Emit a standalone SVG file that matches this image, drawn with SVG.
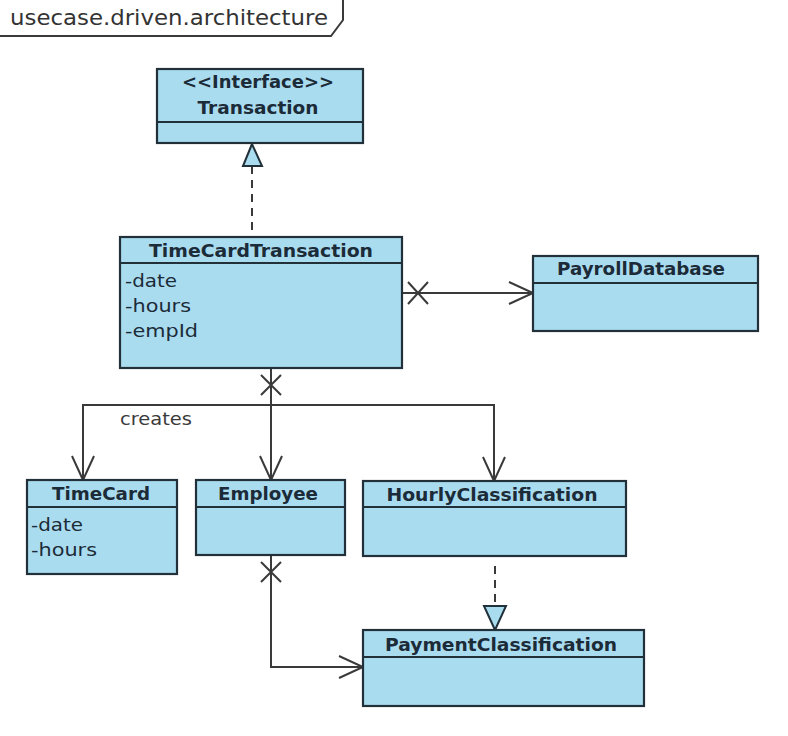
<svg xmlns="http://www.w3.org/2000/svg" width="788" height="736" viewBox="0 0 788 736">
<style>
.box{fill:#aadcf0;stroke:#223039;stroke-width:2.2}
.div{stroke:#223039;stroke-width:2.2}
.t{font-family:"DejaVu Sans",Verdana,sans-serif;font-weight:bold;font-size:18px;fill:#1c2b38;text-anchor:middle}
.a{font-family:"DejaVu Sans",Verdana,sans-serif;font-size:18px;fill:#1c2b38}
.ln{fill:none;stroke:#3a3a3a;stroke-width:2}
.dash{fill:none;stroke:#3a3a3a;stroke-width:2;stroke-dasharray:8,6}
.tri{fill:#aadcf0;stroke:#223039;stroke-width:2}
</style>
<defs>
<marker id="open" markerUnits="userSpaceOnUse" markerWidth="30" markerHeight="30" refX="25" refY="12" orient="auto" viewBox="0 0 30 24">
<path d="M1,1 L25,12 L1,23" fill="none" stroke="#3a3a3a" stroke-width="2"/>
</marker>
</defs>
<rect width="788" height="736" fill="#ffffff"/>
<g id="package">
<path d="M0,36 L331,36 L343,20 L343,0" class="ln"/>
<text x="10" y="25" font-family="DejaVu Sans,Verdana,sans-serif" font-size="21" fill="#333" textLength="318" lengthAdjust="spacingAndGlyphs">usecase.driven.architecture</text>
</g>
<g id="connectors">
<path class="dash" d="M252,166 L252,236"/>
<path class="tri" d="M252,144 L243,166 L262,166 Z"/>
<path class="ln" d="M402,293 L533,293" marker-end="url(#open)"/>
<path class="ln" d="M408,282 L428,304 M408,304 L428,282"/>
<path class="ln" d="M271,368 L271,480" marker-end="url(#open)"/>
<path class="ln" d="M271,405 L83,405 L83,480" marker-end="url(#open)"/>
<path class="ln" d="M271,405 L494,405 L494,481" marker-end="url(#open)"/>
<path class="ln" d="M261,375 L281,395 M261,395 L281,375"/>
<text class="a" x="120" y="425" textLength="72" lengthAdjust="spacingAndGlyphs" fill="#333" style="fill:#3a3a3a">creates</text>
<path class="dash" d="M495,566 L495,606"/>
<path class="tri" d="M495,630 L484,606 L506,606 Z"/>
<path class="ln" d="M271,555 L271,667 L363,667" marker-end="url(#open)"/>
<path class="ln" d="M261,562 L281,582 M261,582 L281,562"/>
</g>
<g id="Transaction">
<rect class="box" x="157" y="69" width="206" height="74"/>
<line class="div" x1="157" y1="122" x2="363" y2="122"/>
<text class="t" x="258" y="88" textLength="152" lengthAdjust="spacingAndGlyphs">&lt;&lt;Interface&gt;&gt;</text>
<text class="t" x="258" y="114" textLength="121" lengthAdjust="spacingAndGlyphs">Transaction</text>
</g>
<g id="TimeCardTransaction">
<rect class="box" x="120" y="237" width="282" height="131"/>
<line class="div" x1="120" y1="263" x2="402" y2="263"/>
<text class="t" x="261" y="257" textLength="224" lengthAdjust="spacingAndGlyphs">TimeCardTransaction</text>
<text class="a" x="125" y="287" textLength="52" lengthAdjust="spacingAndGlyphs">-date</text>
<text class="a" x="125" y="312" textLength="66" lengthAdjust="spacingAndGlyphs">-hours</text>
<text class="a" x="125" y="337" textLength="73" lengthAdjust="spacingAndGlyphs">-empId</text>
</g>
<g id="PayrollDatabase">
<rect class="box" x="533" y="256" width="225" height="75"/>
<line class="div" x1="533" y1="283" x2="758" y2="283"/>
<text class="t" x="641" y="275" textLength="168" lengthAdjust="spacingAndGlyphs">PayrollDatabase</text>
</g>
<g id="TimeCard">
<rect class="box" x="27" y="480" width="150" height="94"/>
<line class="div" x1="27" y1="507" x2="177" y2="507"/>
<text class="t" x="101" y="500" textLength="98" lengthAdjust="spacingAndGlyphs">TimeCard</text>
<text class="a" x="31" y="531" textLength="52" lengthAdjust="spacingAndGlyphs">-date</text>
<text class="a" x="31" y="556" textLength="66" lengthAdjust="spacingAndGlyphs">-hours</text>
</g>
<g id="Employee">
<rect class="box" x="196" y="480" width="149" height="75"/>
<line class="div" x1="196" y1="507" x2="345" y2="507"/>
<text class="t" x="268" y="500" textLength="100" lengthAdjust="spacingAndGlyphs">Employee</text>
</g>
<g id="HourlyClassification">
<rect class="box" x="363" y="481" width="263" height="75"/>
<line class="div" x1="363" y1="507" x2="626" y2="507"/>
<text class="t" x="492" y="501" textLength="211" lengthAdjust="spacingAndGlyphs">HourlyClassification</text>
</g>
<g id="PaymentClassification">
<rect class="box" x="363" y="630" width="281" height="76"/>
<line class="div" x1="363" y1="657" x2="644" y2="657"/>
<text class="t" x="501" y="651" textLength="232" lengthAdjust="spacingAndGlyphs">PaymentClassification</text>
</g>
</svg>
